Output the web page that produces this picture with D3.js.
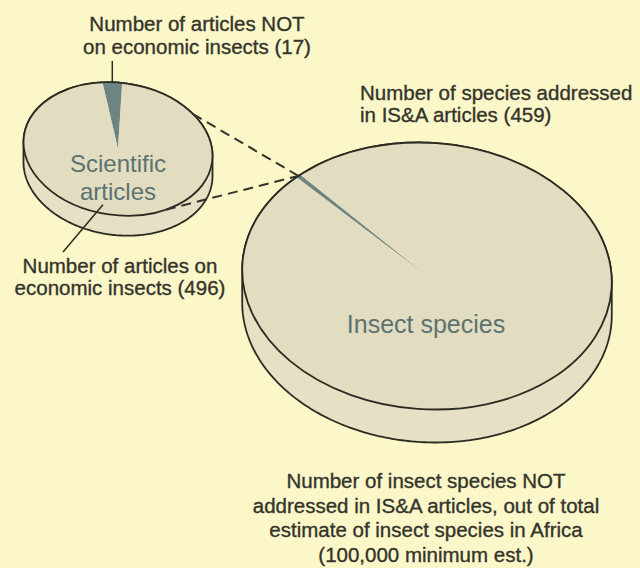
<!DOCTYPE html>
<html>
<head>
<meta charset="utf-8">
<script src="https://cdn.jsdelivr.net/npm/d3@7"></script>
<style>
  html, body { margin: 0; padding: 0; background: #fbf7c9; }
  svg { display: block; }
  .note { font-family: 'Liberation Sans', Arial, Helvetica, sans-serif; font-size: 20.5px; fill: #34342b; stroke: #34342b; stroke-width: 0.35px; }
  .inner { font-family: 'Liberation Sans', Arial, Helvetica, sans-serif; font-size: 25px; fill: #5b7371; }
  .inner.small { font-size: 24px; }
</style>
</head>
<body>
<div class="chart-container"></div>
<script>
// Data
const articleCategories = ['Articles NOT on economic insects', 'Articles on economic insects'];
const articleCounts = [17, 496];

const speciesCategories = ['Species addressed in IS&A articles', 'Species NOT addressed in IS&A articles'];
const speciesCounts = [459, 99541];   // out of 100,000 minimum estimate

// Text
const pieLabels = { articles: ['Scientific', 'articles'], species: ['Insect species'] };
const noteArticlesNot = ['Number of articles NOT', 'on economic insects (17)'];
const noteArticlesOn = ['Number of articles on', 'economic insects (496)'];
const noteSpeciesAddressed = ['Number of species addressed', 'in IS&A articles (459)'];
const noteSpeciesNot = [
    'Number of insect species NOT',
    'addressed in IS&A articles, out of total',
    'estimate of insect species in Africa',
    '(100,000 minimum est.)'
];

// Colours
const colors = {
    top: '#e2dcc0',
    side: '#e6e0c5',
    slice: '#6d8482',
    edge: '#2b2b22',
    dash: '#33332a'
};

// Layout of the two tilted discs
const width = 640;
const height = 568;
const small = { cx: 118, cy: 149, r: 95, k: 0.695, rot: 8, depth: 20, start: -15 };
const big = { cx: 427, cy: 276, r: 185, k: 0.72, rot: 4, depth: 33, start: -47.8 };

const rad = deg => deg * Math.PI / 180;

// screen position of a point given in disc angle / radius
function project(p, angle, radius) {
    const x0 = radius * Math.sin(angle);
    const y0 = -radius * Math.cos(angle) * p.k;
    const t = rad(p.rot);
    return [p.cx + x0 * Math.cos(t) - y0 * Math.sin(t),
            p.cy + x0 * Math.sin(t) + y0 * Math.cos(t)];
}

// outline of the whole disc (top face + its edge)
function sideOutline(p) {
    const n = 360;
    const pts = d3.range(n).map(i => project(p, i / n * 2 * Math.PI, p.r));
    const iMax = d3.maxIndex(pts, d => d[0]);
    const iMin = d3.minIndex(pts, d => d[0]);
    const lower = d3.range(iMax, iMin + 1).map(i => [pts[i][0], pts[i][1] + p.depth]);
    const upper = d3.range(iMin, iMax + n + 1).map(i => pts[i % n]);
    return lower.concat(upper);
}

const svg = d3.select('.chart-container')
    .append('svg')
    .attr('width', width)
    .attr('height', height);

function drawDisc(p, values) {
    const pie = d3.pie().sort(null)
        .startAngle(rad(p.start))
        .endAngle(rad(p.start) + 2 * Math.PI);
    const arcs = pie(values);
    const arc = d3.arc().innerRadius(0).outerRadius(p.r);

    const g = svg.append('g');

    g.append('path')
        .attr('d', d3.line().curve(d3.curveLinearClosed)(sideOutline(p)))
        .attr('fill', colors.side)
        .attr('stroke', colors.edge)
        .attr('stroke-width', 1.8)
        .attr('stroke-linejoin', 'round');

    const face = g.append('g')
        .attr('transform', `translate(${p.cx},${p.cy}) rotate(${p.rot}) scale(1,${p.k})`);

    face.selectAll('.slice')
        .data(arcs)
        .enter()
        .append('path')
        .attr('class', 'slice')
        .attr('d', arc)
        .attr('fill', (d, i) => i === 0 ? colors.slice : colors.top);

    face.append('path')
        .attr('d', d3.arc().innerRadius(0).outerRadius(p.r)({ startAngle: 0, endAngle: 2 * Math.PI }))
        .attr('fill', 'none')
        .attr('stroke', colors.edge)
        .attr('stroke-width', 1.8)
        .attr('vector-effect', 'non-scaling-stroke');

    return arcs;
}

function addText(lines, x, y, lineHeight, anchor, cls) {
    const t = svg.append('text')
        .attr('class', cls)
        .attr('text-anchor', anchor);
    lines.forEach((line, i) => {
        t.append('tspan')
            .attr('x', x)
            .attr('y', y + i * lineHeight)
            .text(line);
    });
    return t;
}

// Draw discs
const speciesArcs = drawDisc(big, speciesCounts);
const articleArcs = drawDisc(small, articleCounts);

// Dashed connectors: from the small disc rim to the thin slice on the big disc
const sliceMid = (speciesArcs[0].startAngle + speciesArcs[0].endAngle) / 2;
const target = project(big, sliceMid, big.r);
[rad(47), rad(144)].forEach(a => {
    const from = project(small, a, small.r);
    svg.append('line')
        .attr('x1', from[0]).attr('y1', from[1])
        .attr('x2', target[0]).attr('y2', target[1])
        .attr('stroke', colors.dash)
        .attr('stroke-width', 2)
        .attr('stroke-dasharray', '10,6');
});

// Leader lines
const notMid = (articleArcs[0].startAngle + articleArcs[0].endAngle) / 2;
const notRim = project(small, notMid, small.r);
svg.append('line')
    .attr('x1', notRim[0]).attr('y1', 61)
    .attr('x2', notRim[0]).attr('y2', notRim[1])
    .attr('stroke', colors.edge)
    .attr('stroke-width', 1.5);

const onPoint = project(small, rad(185), small.r * 0.87);
svg.append('line')
    .attr('x1', 63).attr('y1', 252)
    .attr('x2', onPoint[0]).attr('y2', onPoint[1])
    .attr('stroke', colors.edge)
    .attr('stroke-width', 1.5);

// Labels inside discs
addText(pieLabels.articles, 118, 172, 28, 'middle', 'inner small');
addText(pieLabels.species, 426, 333, 0, 'middle', 'inner');

// Notes
addText(noteArticlesNot, 197, 31, 23, 'middle', 'note');
addText(noteSpeciesAddressed, 360, 100, 22, 'start', 'note');
addText(noteArticlesOn, 120, 273, 22, 'middle', 'note');
addText(noteSpeciesNot, 426, 488, 24.5, 'middle', 'note');
</script>
</body>
</html>
